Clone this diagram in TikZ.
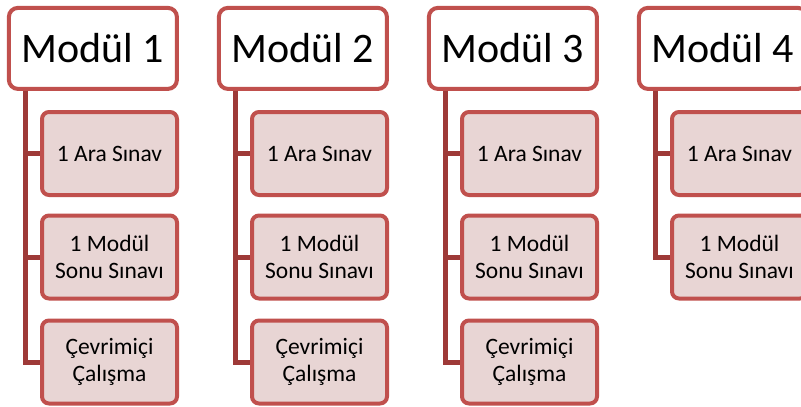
\documentclass[tikz,border=0pt]{standalone}
\usepackage{fontspec}
\setmainfont{Carlito}
\definecolor{modborder}{RGB}{192,80,77}
\definecolor{modtrunk}{RGB}{158,58,56}
\definecolor{modfill}{RGB}{232,213,212}
\begin{document}
\begin{tikzpicture}[
    x=1pt, y=-1pt,
    header/.style={rectangle, rounded corners=9pt, draw=modborder, line width=4pt, fill=white,
        minimum width=168pt, minimum height=81pt, inner sep=0, font=\fontsize{42}{50}\selectfont},
    exam/.style={rectangle, rounded corners=7pt, draw=modborder, line width=4pt, fill=modfill,
        minimum width=135pt, minimum height=83pt, inner sep=0, align=center,
        font=\fontsize{23.5}{27.5}\selectfont},
    trunk/.style={modtrunk, line width=5pt}
]

% ============================================
% MARCO (801 x 407)
% ============================================
\useasboundingbox (0,0) rectangle (801,407);

% Parámetros
\def\modstep{210}   % distancia entre módulos
\def\trunkx{18.8pt} % tronco respecto a la esquina del título

% ============================================
% MÓDULOS (módulo / número de evaluaciones)
% ============================================
\foreach \m/\n in {1/3, 2/3, 3/3, 4/2} {
    \pgfmathsetmacro{\mx}{\modstep*(\m-1)}

    % Título del módulo
    \node[header] (hdr\m) at (\mx+92.9, 48.4) {Modül \m};

    % Evaluaciones
    \node[exam] (exA\m) at (\mx+109.5, 153.5) {1 Ara Sınav};
    \node[exam] (exB\m) at (\mx+109.5, 257)   {1 Modül\\Sonu Sınavı};
    \ifnum\n=3
        \node[exam] (exC\m) at (\mx+109.5, 362) {Çevrimiçi\\Çalışma};
    \fi

    % Conectores
    \draw[trunk] ([xshift=\trunkx]hdr\m.south west) |- (exA\m.west);
    \draw[trunk] ([xshift=\trunkx]hdr\m.south west) |- (exB\m.west);
    \ifnum\n=3
        \draw[trunk] ([xshift=\trunkx]hdr\m.south west) |- (exC\m.west);
    \fi
}

\end{tikzpicture}
\end{document}
